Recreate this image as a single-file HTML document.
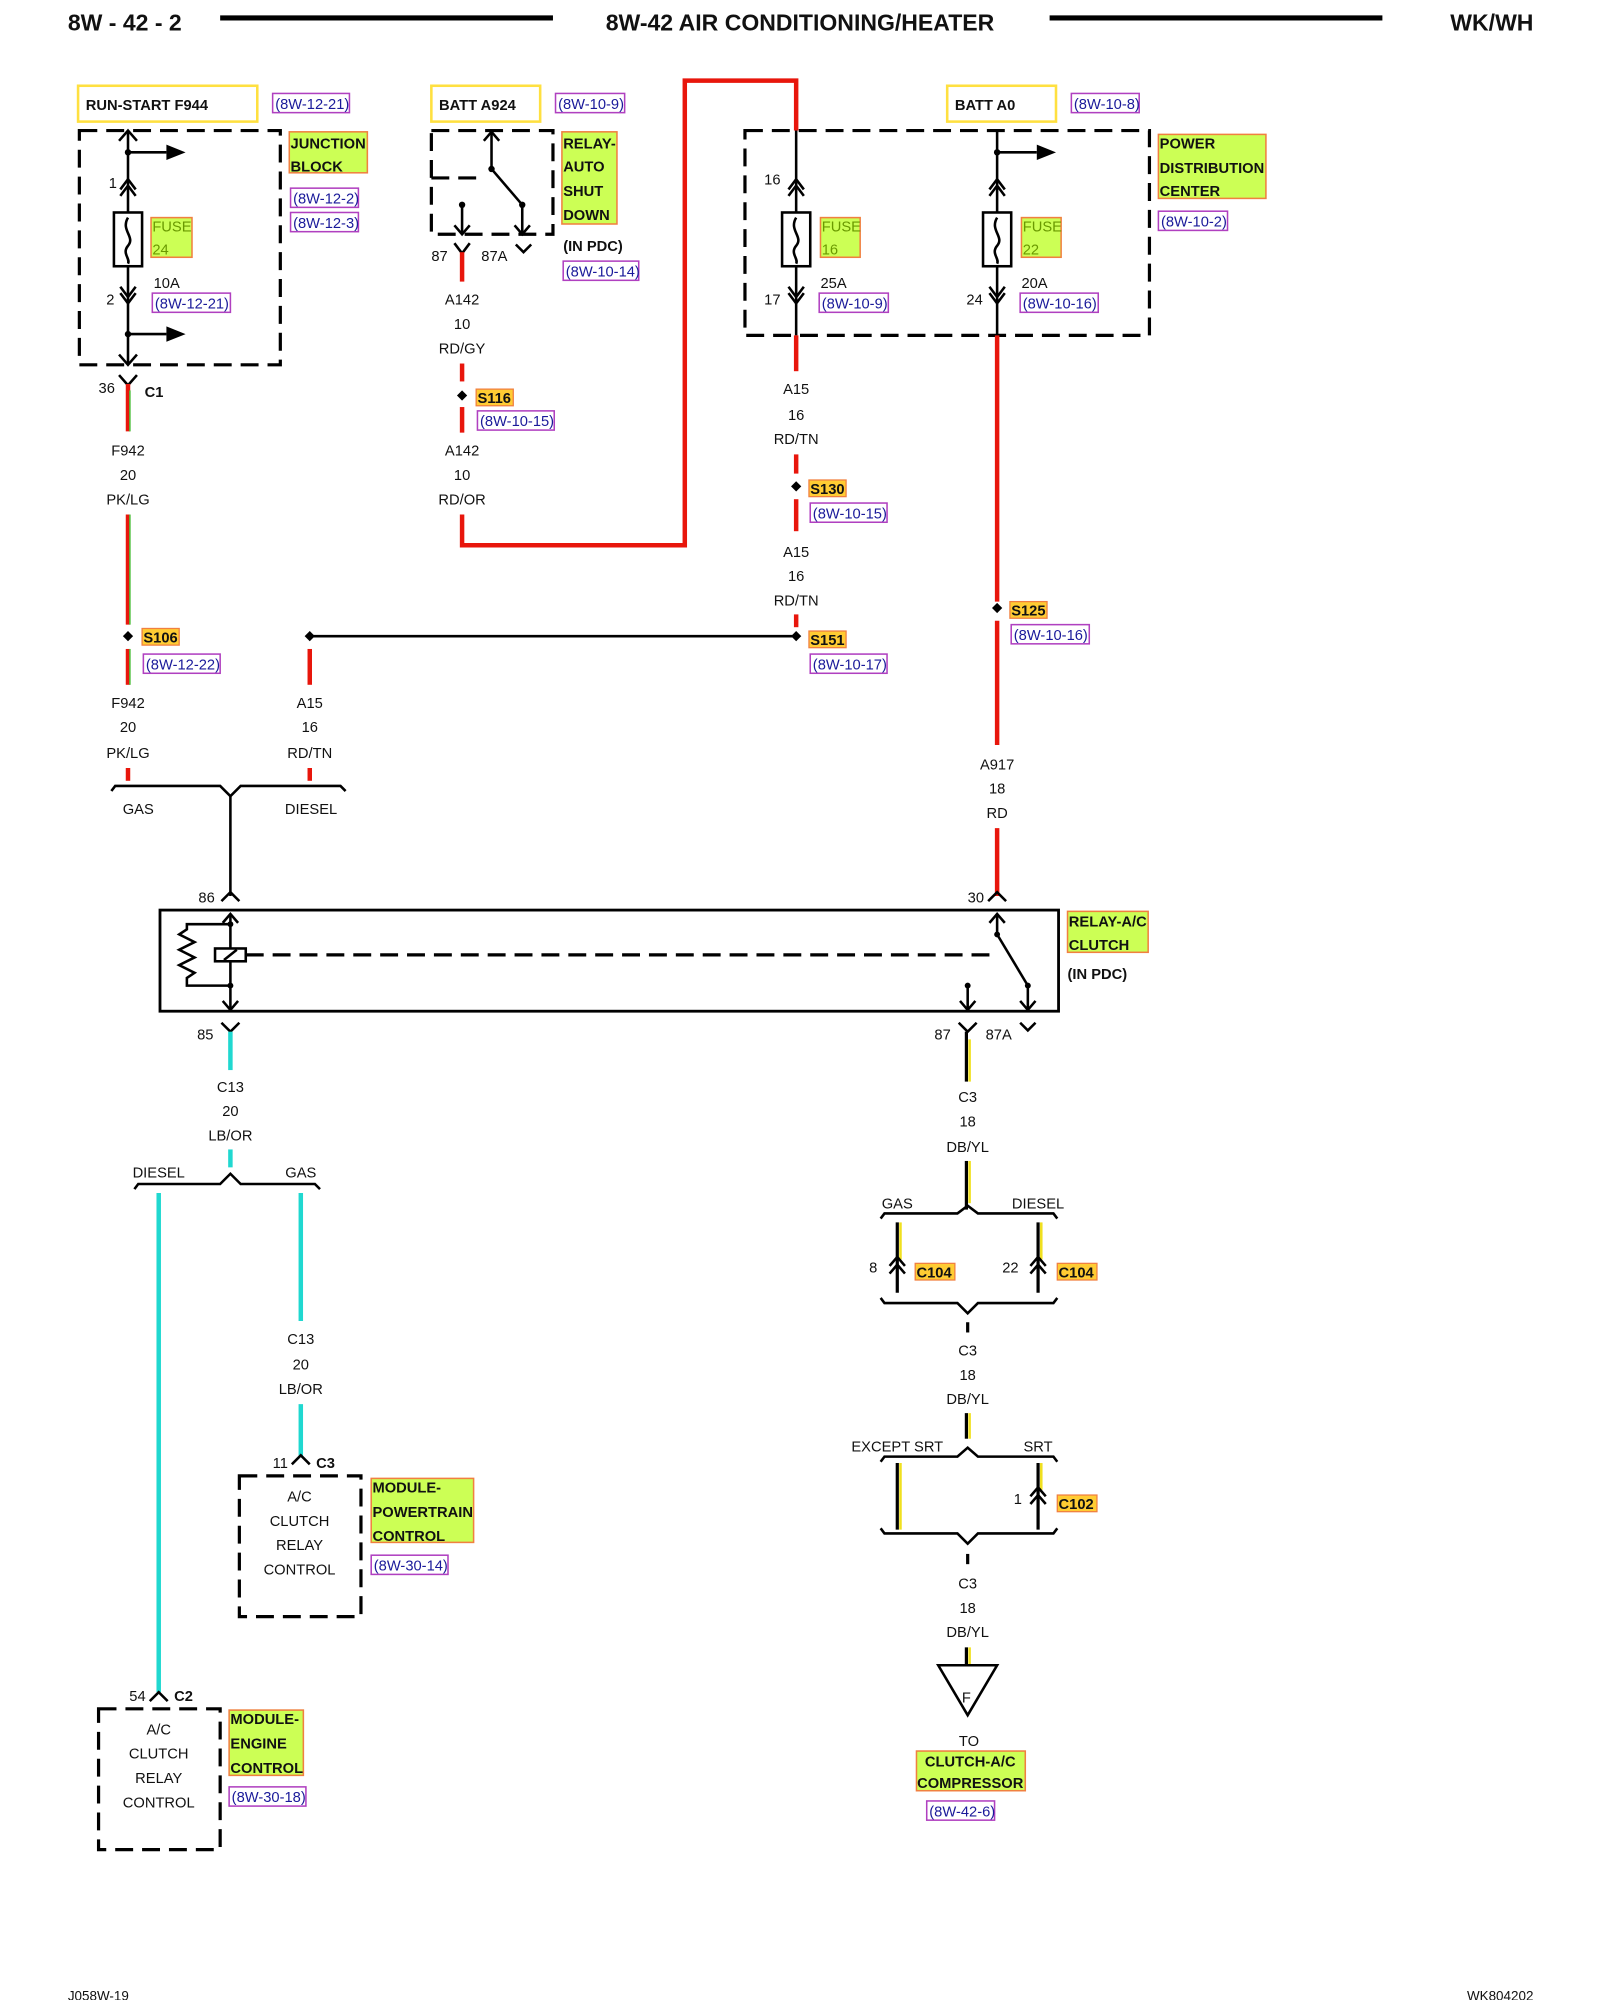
<!DOCTYPE html>
<html><head><meta charset="utf-8"><style>
html,body{margin:0;padding:0;background:#fff}
svg{display:block}
text{font-family:"Liberation Sans",Arial,sans-serif;font-size:11.5px;fill:#111}
.c{text-anchor:middle}
.b{font-weight:bold}
.h{font-weight:bold;font-size:18px}
.hl{fill:#ccff55;stroke:#f08040;stroke-width:1.2}
.sp{fill:#ffcc33;stroke:#f08040;stroke-width:1}
.yb{fill:none;stroke:#ffe040;stroke-width:2}
.rf{fill:#fff;stroke:#b040c0;stroke-width:1.2}
.rt{fill:#1a1a9a;font-size:11.5px}
.k{stroke:#000;stroke-width:2;fill:none}
.d{stroke:#000;stroke-width:2.5;fill:none;stroke-dasharray:14 7}
.r{stroke:#e8160c;stroke-width:3.5;fill:none}
.cy{stroke:#20d8d0;stroke-width:3.5;fill:none}
.yl{stroke:#f0e020;stroke-width:3.5;fill:none}
</style></head><body>
<svg width="1600" height="2000" viewBox="0 0 1250 1562.5" xmlns="http://www.w3.org/2000/svg">
<!-- header -->
<text x="53" y="24" class="h">8W - 42 - 2</text>
<line x1="172" y1="14" x2="432" y2="14" stroke="#000" stroke-width="4"/>
<text x="625" y="24" class="h c">8W-42 AIR CONDITIONING/HEATER</text>
<line x1="820" y1="14" x2="1080" y2="14" stroke="#000" stroke-width="4"/>
<text x="1198" y="24" class="h" text-anchor="end">WK/WH</text>

<!-- top source boxes -->
<rect x="61" y="67" width="140" height="28" class="yb"/><text x="67" y="86" class="b">RUN-START F944</text>
<rect x="213" y="73" width="60" height="15" class="rf"/><text x="215" y="85" class="rt">(8W-12-21)</text>
<rect x="337" y="67" width="85" height="28" class="yb"/><text x="343" y="86" class="b">BATT A924</text>
<rect x="434" y="73" width="54" height="15" class="rf"/><text x="436" y="85" class="rt">(8W-10-9)</text>
<rect x="740" y="67" width="85" height="28" class="yb"/><text x="746" y="86" class="b">BATT A0</text>
<rect x="837" y="73" width="53" height="15" class="rf"/><text x="839" y="85" class="rt">(8W-10-8)</text>

<!-- junction block -->
<rect x="62" y="102" width="157" height="183" class="d"/>
<line x1="100" y1="102" x2="100" y2="166" class="k"/>
<line x1="100" y1="208" x2="100" y2="285" class="k"/>
<polyline points="93,110 100,102 107,110" class="k"/>
<line x1="100" y1="119" x2="130" y2="119" class="k"/><polygon points="130,113 145,119 130,125"/>
<circle cx="100" cy="119" r="2.5"/>
<polyline points="94,148 100,140 106,148" class="k"/><polyline points="94,153 100,145 106,153" class="k"/>
<rect x="89" y="166" width="22" height="42" fill="#fff" stroke="#000" stroke-width="2"/>
<path d="M100,170 C94,180 106,185 100,192 C95,198 102,202 100,206" class="k" stroke-width="1.5"/>
<polyline points="94,224 100,232 106,224" class="k"/><polyline points="94,229 100,237 106,229" class="k"/>
<line x1="100" y1="261" x2="130" y2="261" class="k"/><polygon points="130,255 145,261 130,267"/>
<circle cx="100" cy="261" r="2.5"/>
<polyline points="93,277 100,285 107,277" class="k"/>
<text x="85" y="147">1</text><text x="83" y="238">2</text>
<rect x="118" y="170" width="32" height="31" class="hl"/><text x="119" y="181" fill="#6a9a00" style="fill:#6a9a00">FUSE</text><text x="119" y="199" style="fill:#6a9a00">24</text>
<text x="120" y="225">10A</text>
<rect x="119" y="229" width="61" height="15" class="rf"/><text x="121" y="241" class="rt">(8W-12-21)</text>
<rect x="226" y="103" width="61" height="32" class="hl"/><text x="227" y="116" class="b">JUNCTION</text><text x="227" y="134" class="b">BLOCK</text>
<rect x="227" y="147" width="53" height="15" class="rf"/><text x="229" y="159" class="rt">(8W-12-2)</text>
<rect x="227" y="166" width="53" height="15" class="rf"/><text x="229" y="178" class="rt">(8W-12-3)</text>

<!-- left column wire -->
<polyline points="93,293 100,301 107,293" class="k"/>
<line x1="100" y1="300" x2="100" y2="337" class="r" stroke-width="3"/><line x1="101.5" y1="305" x2="101.5" y2="337" stroke="#50c040" stroke-width="1.2"/>
<text x="77" y="307">36</text><text x="113" y="310" class="b">C1</text>
<text x="100" y="356" class="c">F942</text><text x="100" y="375" class="c">20</text><text x="100" y="394" class="c">PK/LG</text>
<line x1="100" y1="402" x2="100" y2="488" class="r" stroke-width="3"/><line x1="101.5" y1="402" x2="101.5" y2="488" stroke="#50c040" stroke-width="1.2"/>
<polygon points="100,493 104,497 100,501 96,497"/>
<rect x="111" y="491" width="29" height="13" class="sp"/><text x="112" y="502" class="b">S106</text>
<rect x="112" y="511" width="60" height="15" class="rf"/><text x="114" y="523" class="rt">(8W-12-22)</text>
<line x1="100" y1="507" x2="100" y2="535" class="r" stroke-width="3"/><line x1="101.5" y1="507" x2="101.5" y2="535" stroke="#50c040" stroke-width="1.2"/>
<text x="100" y="553" class="c">F942</text><text x="100" y="572" class="c">20</text><text x="100" y="592" class="c">PK/LG</text>
<line x1="100" y1="600" x2="100" y2="610" class="r" stroke-width="3"/>

<!-- A15 at 242 -->
<line x1="242" y1="497" x2="622" y2="497" class="k"/>
<polygon points="242,493 246,497 242,501 238,497"/>
<line x1="242" y1="507" x2="242" y2="535" class="r"/>
<text x="242" y="553" class="c">A15</text><text x="242" y="572" class="c">16</text><text x="242" y="592" class="c">RD/TN</text>
<line x1="242" y1="600" x2="242" y2="610" class="r"/>
<!-- bracket GAS/DIESEL -->
<path d="M87,618 L90,614 L172,614 L180,622 L188,614 L266,614 L270,618" class="k" stroke-width="1.5"/>
<text x="108" y="636" class="c">GAS</text><text x="243" y="636" class="c">DIESEL</text>
<line x1="180" y1="622" x2="180" y2="700" class="k"/>
<polyline points="173,704 180,697 187,704" class="k"/>
<text x="155" y="705">86</text>

<!-- ASD relay -->
<rect x="337" y="102" width="95" height="81" class="d"/>
<polyline points="378,110 384,103 390,110" class="k"/>
<line x1="384" y1="103" x2="384" y2="130" class="k"/><circle cx="384" cy="132" r="2.5"/>
<line x1="384" y1="132" x2="408" y2="160" class="k"/><circle cx="408" cy="160" r="2.5"/>
<line x1="408" y1="160" x2="408" y2="182" class="k"/><polyline points="402,176 408,183 414,176" class="k"/>
<line x1="337" y1="139" x2="378" y2="139" class="d" stroke-width="2"/>
<circle cx="361" cy="160" r="2.5"/><line x1="361" y1="160" x2="361" y2="182" class="k"/><polyline points="355,176 361,183 367,176" class="k"/>
<polyline points="355,190 361,198 367,190" class="k"/><polyline points="403,191 409,197 415,191" class="k"/>
<text x="337" y="204">87</text><text x="376" y="204">87A</text>
<rect x="439" y="103" width="43" height="72" class="hl"/>
<text x="440" y="116" class="b">RELAY-</text><text x="440" y="134" class="b">AUTO</text><text x="440" y="153" class="b">SHUT</text><text x="440" y="172" class="b">DOWN</text>
<text x="440" y="196" class="b">(IN PDC)</text>
<rect x="440" y="204" width="59" height="15" class="rf"/><text x="442" y="216" class="rt">(8W-10-14)</text>
<line x1="361" y1="197" x2="361" y2="220" class="r"/>
<text x="361" y="238" class="c">A142</text><text x="361" y="257" class="c">10</text><text x="361" y="276" class="c">RD/GY</text>
<line x1="361" y1="284" x2="361" y2="298" class="r"/>
<polygon points="361,305 365,309 361,313 357,309"/>
<rect x="372" y="304" width="29" height="13" class="sp"/><text x="373" y="315" class="b">S116</text>
<rect x="373" y="321" width="60" height="15" class="rf"/><text x="375" y="333" class="rt">(8W-10-15)</text>
<line x1="361" y1="318" x2="361" y2="338" class="r"/>
<text x="361" y="356" class="c">A142</text><text x="361" y="375" class="c">10</text><text x="361" y="394" class="c">RD/OR</text>
<polyline points="361,402 361,426 535,426 535,63 622,63 622,102" class="r" stroke-width="4"/>

<!-- PDC -->
<rect x="582" y="102" width="316" height="160" class="d"/>
<line x1="622" y1="102" x2="622" y2="166" class="k"/><line x1="622" y1="208" x2="622" y2="262" class="k"/>
<polyline points="616,148 622,140 628,148" class="k"/><polyline points="616,153 622,145 628,153" class="k"/>
<rect x="611" y="166" width="22" height="42" fill="#fff" stroke="#000" stroke-width="2"/>
<path d="M622,170 C616,180 628,185 622,192 C617,198 624,202 622,206" class="k" stroke-width="1.5"/>
<polyline points="616,224 622,232 628,224" class="k"/><polyline points="616,229 622,237 628,229" class="k"/>
<text x="597" y="144">16</text><text x="597" y="238">17</text>
<rect x="641" y="170" width="31" height="31" class="hl"/><text x="642" y="181" style="fill:#6a9a00">FUSE</text><text x="642" y="199" style="fill:#6a9a00">16</text>
<text x="641" y="225">25A</text>
<rect x="640" y="229" width="54" height="15" class="rf"/><text x="642" y="241" class="rt">(8W-10-9)</text>
<line x1="779" y1="102" x2="779" y2="166" class="k"/><line x1="779" y1="208" x2="779" y2="262" class="k"/>
<line x1="779" y1="119" x2="810" y2="119" class="k"/><polygon points="810,113 825,119 810,125"/><circle cx="779" cy="119" r="2.5"/>
<polyline points="773,148 779,140 785,148" class="k"/><polyline points="773,153 779,145 785,153" class="k"/>
<rect x="768" y="166" width="22" height="42" fill="#fff" stroke="#000" stroke-width="2"/>
<path d="M779,170 C773,180 785,185 779,192 C774,198 781,202 779,206" class="k" stroke-width="1.5"/>
<polyline points="773,224 779,232 785,224" class="k"/><polyline points="773,229 779,237 785,229" class="k"/>
<text x="755" y="238">24</text>
<rect x="798" y="170" width="31" height="31" class="hl"/><text x="799" y="181" style="fill:#6a9a00">FUSE</text><text x="799" y="199" style="fill:#6a9a00">22</text>
<text x="798" y="225">20A</text>
<rect x="797" y="229" width="61" height="15" class="rf"/><text x="799" y="241" class="rt">(8W-10-16)</text>
<rect x="905" y="105" width="84" height="50" class="hl"/>
<text x="906" y="116" class="b">POWER</text><text x="906" y="135" class="b">DISTRIBUTION</text><text x="906" y="153" class="b">CENTER</text>
<rect x="905" y="165" width="54" height="15" class="rf"/><text x="907" y="177" class="rt">(8W-10-2)</text>

<!-- A15 column 622 -->
<line x1="622" y1="262" x2="622" y2="290" class="r"/>
<text x="622" y="308" class="c">A15</text><text x="622" y="328" class="c">16</text><text x="622" y="347" class="c">RD/TN</text>
<line x1="622" y1="355" x2="622" y2="370" class="r"/>
<polygon points="622,376 626,380 622,384 618,380"/>
<rect x="632" y="375" width="29" height="13" class="sp"/><text x="633" y="386" class="b">S130</text>
<rect x="633" y="393" width="60" height="15" class="rf"/><text x="635" y="405" class="rt">(8W-10-15)</text>
<line x1="622" y1="390" x2="622" y2="415" class="r"/>
<text x="622" y="435" class="c">A15</text><text x="622" y="454" class="c">16</text><text x="622" y="473" class="c">RD/TN</text>
<line x1="622" y1="480" x2="622" y2="490" class="r"/>
<polygon points="622,493 626,497 622,501 618,497"/>
<rect x="632" y="493" width="29" height="13" class="sp"/><text x="633" y="504" class="b">S151</text>
<rect x="633" y="511" width="60" height="15" class="rf"/><text x="635" y="523" class="rt">(8W-10-17)</text>

<!-- 779 column -->
<line x1="779" y1="262" x2="779" y2="470" class="r" stroke-width="4"/>
<polygon points="779,471 783,475 779,479 775,475"/>
<rect x="789" y="470" width="29" height="13" class="sp"/><text x="790" y="481" class="b">S125</text>
<rect x="790" y="488" width="61" height="15" class="rf"/><text x="792" y="500" class="rt">(8W-10-16)</text>
<line x1="779" y1="485" x2="779" y2="582" class="r" stroke-width="4"/>
<text x="779" y="601" class="c">A917</text><text x="779" y="620" class="c">18</text><text x="779" y="639" class="c">RD</text>
<line x1="779" y1="647" x2="779" y2="700" class="r" stroke-width="4"/>
<polyline points="772,704 779,697 786,704" class="k"/>
<text x="756" y="705">30</text>

<!-- A/C clutch relay -->
<rect x="125" y="711" width="702" height="79" fill="none" stroke="#000" stroke-width="2.2"/>
<polyline points="174,721 180,714 186,721" class="k"/>
<line x1="180" y1="714" x2="180" y2="741" class="k"/><line x1="180" y1="751" x2="180" y2="790" class="k"/>
<circle cx="180" cy="722" r="2.3"/><circle cx="180" cy="770" r="2.3"/>
<polyline points="180,722 146,722 146,726 140,730 152,736 140,742 152,748 140,754 152,760 146,764 146,770 180,770" class="k" stroke-width="1.5"/>
<rect x="168" y="741" width="24" height="10" fill="#fff" stroke="#000" stroke-width="2"/><line x1="175" y1="750" x2="185" y2="742" class="k" stroke-width="1.5"/>
<polyline points="174,782 180,789 186,782" class="k"/>
<line x1="192" y1="746" x2="775" y2="746" class="d" stroke-width="1.8" stroke-dasharray="14 10"/>
<polyline points="773,721 779,714 785,721" class="k"/>
<line x1="779" y1="714" x2="779" y2="730" class="k"/><circle cx="779" cy="730" r="2.3"/>
<line x1="779" y1="730" x2="803" y2="770" class="k"/><circle cx="803" cy="770" r="2.3"/>
<line x1="803" y1="770" x2="803" y2="789" class="k"/><polyline points="797,782 803,789 809,782" class="k"/>
<circle cx="756" cy="770" r="2.3"/><line x1="756" y1="770" x2="756" y2="789" class="k"/><polyline points="750,782 756,789 762,782" class="k"/>
<rect x="834" y="712" width="63" height="32" class="hl"/><text x="835" y="724" class="b">RELAY-A/C</text><text x="835" y="742" class="b">CLUTCH</text>
<text x="834" y="765" class="b">(IN PDC)</text>

<!-- left bottom -->
<polyline points="173,799 180,806 187,799" class="k"/>
<line x1="180" y1="806" x2="180" y2="836" class="cy"/>
<text x="154" y="812">85</text>
<text x="180" y="853" class="c">C13</text><text x="180" y="872" class="c">20</text><text x="180" y="891" class="c">LB/OR</text>
<line x1="180" y1="898" x2="180" y2="912" class="cy"/>
<path d="M105,929 L108,925 L172,925 L180,917 L188,925 L246,925 L250,929" class="k" stroke-width="1.5"/>
<text x="124" y="920" class="c">DIESEL</text><text x="235" y="920" class="c">GAS</text>
<line x1="124" y1="932" x2="124" y2="1322" class="cy"/>
<line x1="235" y1="932" x2="235" y2="1032" class="cy"/>
<text x="235" y="1050" class="c">C13</text><text x="235" y="1070" class="c">20</text><text x="235" y="1089" class="c">LB/OR</text>
<line x1="235" y1="1097" x2="235" y2="1138" class="cy"/>
<polyline points="228,1144 235,1137 242,1144" class="k"/>
<text x="213" y="1147">11</text><text x="247" y="1147" class="b">C3</text>
<rect x="187" y="1153" width="95" height="110" class="d"/>
<text x="234" y="1173" class="c">A/C</text><text x="234" y="1192" class="c">CLUTCH</text><text x="234" y="1211" class="c">RELAY</text><text x="234" y="1230" class="c">CONTROL</text>
<rect x="290" y="1155" width="80" height="50" class="hl"/><text x="291" y="1166" class="b">MODULE-</text><text x="291" y="1185" class="b">POWERTRAIN</text><text x="291" y="1204" class="b">CONTROL</text>
<rect x="290" y="1215" width="60" height="15" class="rf"/><text x="292" y="1227" class="rt">(8W-30-14)</text>
<polyline points="117,1329 124,1322 131,1329" class="k"/>
<text x="101" y="1329">54</text><text x="136" y="1329" class="b">C2</text>
<rect x="77" y="1335" width="95" height="110" class="d"/>
<text x="124" y="1355" class="c">A/C</text><text x="124" y="1374" class="c">CLUTCH</text><text x="124" y="1393" class="c">RELAY</text><text x="124" y="1412" class="c">CONTROL</text>
<rect x="179" y="1336" width="58" height="51" class="hl"/><text x="180" y="1347" class="b">MODULE-</text><text x="180" y="1366" class="b">ENGINE</text><text x="180" y="1385" class="b">CONTROL</text>
<rect x="179" y="1396" width="60" height="15" class="rf"/><text x="181" y="1408" class="rt">(8W-30-18)</text>

<!-- right bottom -->
<polyline points="749,799 756,806 763,799" class="k"/>
<line x1="755" y1="806" x2="755" y2="845" stroke="#000" stroke-width="2.5"/><line x1="757.5" y1="812" x2="757.5" y2="845" stroke="#f0e020" stroke-width="2"/>
<polyline points="797,799 803,805 809,799" class="k"/>
<text x="730" y="812">87</text><text x="770" y="812">87A</text>
<text x="756" y="861" class="c">C3</text><text x="756" y="880" class="c">18</text><text x="756" y="900" class="c">DB/YL</text>
<line x1="755" y1="907" x2="755" y2="945" stroke="#000" stroke-width="2.5"/><line x1="757.5" y1="907" x2="757.5" y2="940" stroke="#f0e020" stroke-width="2"/>
<path d="M688,952 L691,948 L748,948 L756,942 L764,948 L823,948 L826,952" class="k" stroke-width="1.5"/>
<text x="701" y="944" class="c">GAS</text><text x="811" y="944" class="c">DIESEL</text>
<line x1="701" y1="955" x2="701" y2="1010" stroke="#000" stroke-width="2.5"/><line x1="703.5" y1="955" x2="703.5" y2="984" stroke="#f0e020" stroke-width="2"/>
<polyline points="695,989 701,982 707,989" class="k"/><polyline points="695,995 701,988 707,995" class="k"/>
<line x1="811" y1="955" x2="811" y2="1010" stroke="#000" stroke-width="2.5"/><line x1="813.5" y1="955" x2="813.5" y2="984" stroke="#f0e020" stroke-width="2"/>
<polyline points="805,989 811,982 817,989" class="k"/><polyline points="805,995 811,988 817,995" class="k"/>
<text x="679" y="994">8</text><rect x="715" y="987" width="31" height="13" class="sp"/><text x="716" y="998" class="b">C104</text>
<text x="783" y="994">22</text><rect x="826" y="987" width="31" height="13" class="sp"/><text x="827" y="998" class="b">C104</text>
<path d="M688,1014 L691,1018 L748,1018 L756,1026 L764,1018 L823,1018 L826,1014" class="k" stroke-width="1.5"/>
<line x1="756" y1="1033" x2="756" y2="1041" stroke="#000" stroke-width="2.5"/>
<text x="756" y="1059" class="c">C3</text><text x="756" y="1078" class="c">18</text><text x="756" y="1097" class="c">DB/YL</text>
<line x1="755" y1="1104" x2="755" y2="1124" stroke="#000" stroke-width="2.5"/><line x1="757.5" y1="1104" x2="757.5" y2="1124" stroke="#f0e020" stroke-width="2"/>
<path d="M688,1142 L691,1138 L748,1138 L756,1131 L764,1138 L823,1138 L826,1142" class="k" stroke-width="1.5"/>
<text x="701" y="1134" class="c">EXCEPT SRT</text><text x="811" y="1134" class="c">SRT</text>
<line x1="701" y1="1143" x2="701" y2="1195" stroke="#000" stroke-width="2.5"/><line x1="703.5" y1="1143" x2="703.5" y2="1195" stroke="#f0e020" stroke-width="2"/>
<line x1="811" y1="1143" x2="811" y2="1195" stroke="#000" stroke-width="2.5"/><line x1="813.5" y1="1143" x2="813.5" y2="1164" stroke="#f0e020" stroke-width="2"/>
<polyline points="805,1169 811,1162 817,1169" class="k"/><polyline points="805,1175 811,1168 817,1175" class="k"/>
<text x="792" y="1175">1</text><rect x="826" y="1168" width="31" height="13" class="sp"/><text x="827" y="1179" class="b">C102</text>
<path d="M688,1194 L691,1198 L748,1198 L756,1206 L764,1198 L823,1198 L826,1194" class="k" stroke-width="1.5"/>
<line x1="756" y1="1214" x2="756" y2="1222" stroke="#000" stroke-width="2.5"/>
<text x="756" y="1241" class="c">C3</text><text x="756" y="1260" class="c">18</text><text x="756" y="1279" class="c">DB/YL</text>
<line x1="755" y1="1287" x2="755" y2="1301" stroke="#000" stroke-width="2.5"/><line x1="757.5" y1="1287" x2="757.5" y2="1301" stroke="#f0e020" stroke-width="2"/>
<polygon points="733,1301 779,1301 756,1340" fill="#fff" stroke="#000" stroke-width="2"/>
<text x="755" y="1330" class="c">F</text>
<text x="757" y="1364" class="c">TO</text>
<rect x="716" y="1368" width="85" height="31" class="hl"/><text x="758" y="1380" class="c b">CLUTCH-A/C</text><text x="758" y="1397" class="c b">COMPRESSOR</text>
<rect x="724" y="1407" width="53" height="15" class="rf"/><text x="726" y="1419" class="rt">(8W-42-6)</text>

<!-- footer -->
<text x="53" y="1563" style="font-size:10.5px">J058W-19</text>
<text x="1198" y="1563" text-anchor="end" style="font-size:10.5px">WK804202</text>
</svg>
</body></html>
